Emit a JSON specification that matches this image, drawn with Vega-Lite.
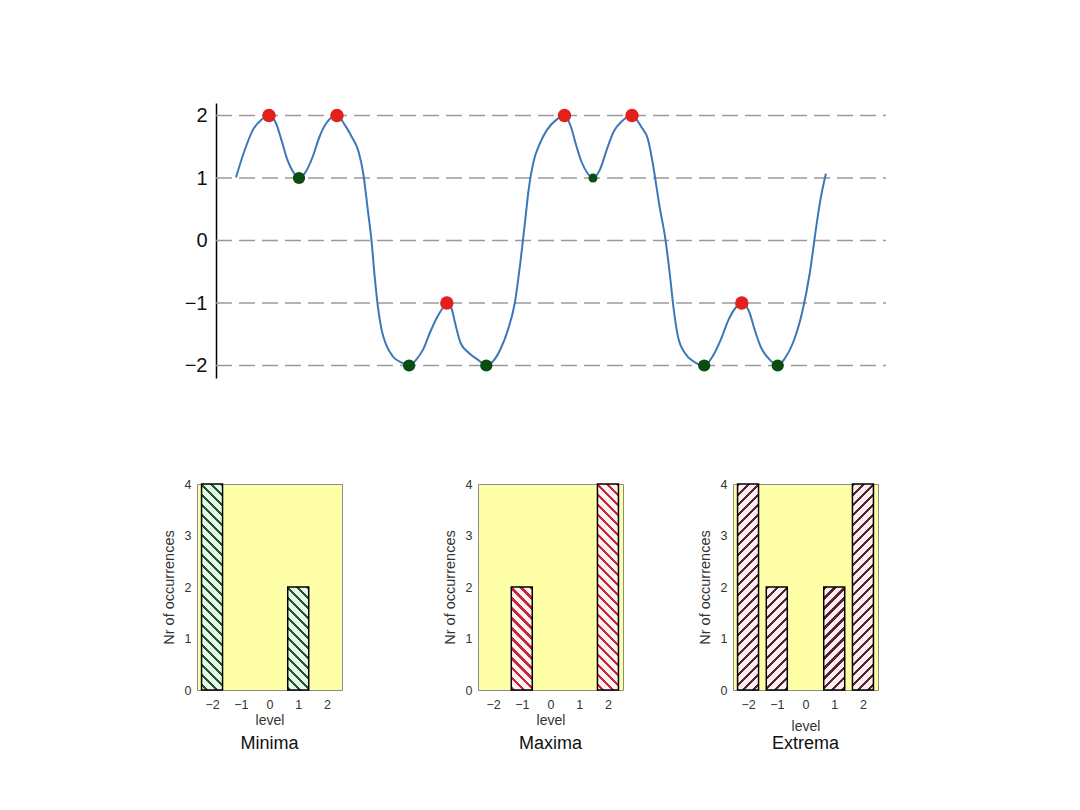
{
  "$schema": "https://vega.github.io/schema/vega-lite/v6.json",
  "background": "white",
  "padding": {"left": 160, "top": 103, "right": 10, "bottom": 10},
  "config": {
    "font": "Liberation Sans",
    "axis": {"labelFont": "Liberation Sans", "titleFont": "Liberation Sans", "titleFontWeight": "normal"},
    "title": {"font": "Liberation Sans", "fontWeight": "normal"}
  },
  "datasets": {
    "levels": [{"v": -2}, {"v": -1}, {"v": 0}, {"v": 1}, {"v": 2}],
    "curve": [{"t":20,"v":1.01},{"t":27.7,"v":1.4},{"t":36.9,"v":1.77},{"t":46,"v":1.94},{"t":53,"v":2},{"t":59.9,"v":1.88},{"t":65.4,"v":1.61},{"t":71.4,"v":1.29},{"t":77.4,"v":1.09},{"t":83,"v":1},{"t":89.8,"v":1.1},{"t":96.7,"v":1.34},{"t":103.5,"v":1.66},{"t":110.4,"v":1.88},{"t":121,"v":2},{"t":128.8,"v":1.85},{"t":135.7,"v":1.66},{"t":142.6,"v":1.42},{"t":147.2,"v":1.08},{"t":151.8,"v":0.49},{"t":155.5,"v":0},{"t":158.7,"v":-0.58},{"t":161.9,"v":-1.06},{"t":165.6,"v":-1.43},{"t":170.2,"v":-1.67},{"t":177.1,"v":-1.86},{"t":186.3,"v":-1.96},{"t":193.1,"v":-2},{"t":200,"v":-1.91},{"t":206.9,"v":-1.75},{"t":213.8,"v":-1.48},{"t":220.7,"v":-1.24},{"t":227.6,"v":-1.06},{"t":230.8,"v":-1},{"t":235.4,"v":-1.08},{"t":239.1,"v":-1.32},{"t":244.6,"v":-1.64},{"t":252.9,"v":-1.8},{"t":262.1,"v":-1.91},{"t":270.3,"v":-2},{"t":278.2,"v":-1.91},{"t":285,"v":-1.72},{"t":291.9,"v":-1.43},{"t":298.8,"v":-1},{"t":304.3,"v":-0.36},{"t":308.9,"v":0.28},{"t":312.6,"v":0.81},{"t":317.2,"v":1.24},{"t":324.1,"v":1.56},{"t":331,"v":1.77},{"t":340.2,"v":1.93},{"t":348.5,"v":2},{"t":354.9,"v":1.82},{"t":359.5,"v":1.56},{"t":365.5,"v":1.26},{"t":371.4,"v":1.08},{"t":376.9,"v":1},{"t":383.8,"v":1.13},{"t":390.7,"v":1.45},{"t":397.6,"v":1.74},{"t":405.4,"v":1.9},{"t":416,"v":2},{"t":425.2,"v":1.82},{"t":432.1,"v":1.61},{"t":436.7,"v":1.24},{"t":443.6,"v":0.54},{"t":449.6,"v":0},{"t":454.1,"v":-0.58},{"t":457.4,"v":-1.06},{"t":462,"v":-1.54},{"t":468.9,"v":-1.8},{"t":478,"v":-1.94},{"t":488.2,"v":-2},{"t":496.4,"v":-1.86},{"t":504.7,"v":-1.59},{"t":512.5,"v":-1.27},{"t":519.4,"v":-1.08},{"t":525.8,"v":-1},{"t":533.2,"v":-1.14},{"t":538.7,"v":-1.43},{"t":544.7,"v":-1.7},{"t":553.9,"v":-1.91},{"t":561.7,"v":-2},{"t":569.1,"v":-1.88},{"t":576.9,"v":-1.64},{"t":586,"v":-1.16},{"t":593.8,"v":-0.52},{"t":599.8,"v":0.17},{"t":604.4,"v":0.65},{"t":609.9,"v":1.07}],
    "maxima": [{"t":53,"v":2},{"t":121,"v":2},{"t":230.8,"v":-1},{"t":348.5,"v":2},{"t":416,"v":2},{"t":525.8,"v":-1}],
    "minima": [{"t":83,"v":1},{"t":193.1,"v":-2},{"t":270.3,"v":-2},{"t":377,"v":1},{"t":488.2,"v":-2},{"t":561.7,"v":-2}],
    "hist": [
      {"panel":"Minima","level":-2,"n":4},{"panel":"Minima","level":1,"n":2},
      {"panel":"Maxima","level":-1,"n":2},{"panel":"Maxima","level":2,"n":4},
      {"panel":"Extrema","level":-2,"n":4},{"panel":"Extrema","level":-1,"n":2},
      {"panel":"Extrema","level":1,"n":2},{"panel":"Extrema","level":2,"n":4}
    ]
  },
  "spacing": 99,
  "vconcat": [
    {
      "width": 689,
      "height": 275,
      "view": {"stroke": null},
      "layer": [
        {
          "data": {"name": "levels"},
          "mark": {"type": "rule", "strokeDash": [16, 7], "color": "#9a9a9a", "strokeWidth": 1.5},
          "encoding": {
            "x": {"datum": 0, "type": "quantitative", "scale": {"domain": [-19, 670], "nice": false, "zero": false}, "axis": null},
            "x2": {"datum": 670},
            "y": {
              "field": "v", "type": "quantitative",
              "scale": {"domain": [-2.2, 2.2], "nice": false, "zero": false},
              "axis": {
                "values": [-2, -1, 0, 1, 2], "format": "d", "grid": false, "offset": -19,
                "domainColor": "#000", "domainWidth": 1.5, "ticks": false,
                "labelFontSize": 20, "labelColor": "#111", "labelPadding": 9, "title": null
              }
            }
          }
        },
        {
          "data": {"name": "curve"},
          "mark": {"type": "line", "interpolate": "monotone", "color": "#3b78b8", "strokeWidth": 2},
          "encoding": {
            "x": {"field": "t", "type": "quantitative"},
            "y": {"field": "v", "type": "quantitative"}
          }
        },
        {
          "data": {"name": "maxima"},
          "mark": {"type": "circle", "color": "#e3201b", "size": 180, "opacity": 1},
          "encoding": {
            "x": {"field": "t", "type": "quantitative"},
            "y": {"field": "v", "type": "quantitative"}
          }
        },
        {
          "data": {"name": "minima"},
          "transform": [{"filter": "datum.t != 377"}],
          "mark": {"type": "circle", "color": "#0a4d13", "size": 150, "opacity": 1},
          "encoding": {
            "x": {"field": "t", "type": "quantitative"},
            "y": {"field": "v", "type": "quantitative"}
          }
        },
        {
          "data": {"name": "minima"},
          "transform": [{"filter": "datum.t == 377"}],
          "mark": {"type": "circle", "color": "#0a4d13", "size": 80, "opacity": 1},
          "encoding": {
            "x": {"field": "t", "type": "quantitative"},
            "y": {"field": "v", "type": "quantitative"}
          }
        }
      ]
    },
    {
      "spacing": 98,
      "hconcat": [
        {
          "width": 145,
          "height": 206,
          "view": {"fill": "#ffffa8", "stroke": "#8c8c8c"},
          "title": {"text": "Minima", "orient": "bottom", "fontSize": 18, "color": "#111", "offset": 7},
          "data": {"name": "hist"},
          "transform": [{"filter": "datum.panel == 'Minima'"}],
          "encoding": {
            "x": {"field": "level", "type": "quantitative", "scale": {"domain": [-2.35, 2.35], "nice": false, "zero": false},
              "axis": {"values": [-2, -1, 0, 1, 2], "title": "level", "grid": false, "domain": false, "ticks": false, "labelPadding": 8, "titlePadding": 3, "labelFontSize": 12.5, "titleFontSize": 14, "labelColor": "#333", "titleColor": "#333"}},
            "y": {"field": "n", "type": "quantitative", "scale": {"domain": [0, 4], "nice": false},
              "axis": {"values": [0, 1, 2, 3, 4], "title": "Nr of occurrences", "grid": false, "domain": false, "ticks": false, "labelPadding": 6, "titlePadding": 8, "labelFontSize": 12.5, "titleFontSize": 14.5, "labelColor": "#333", "titleColor": "#333"}}
          },
          "layer": [
            {
              "transform": [{"filter": "datum.n > 3"}],
              "mark": {"type": "bar", "orient": "vertical", "size": 21, "stroke": "#000", "strokeWidth": 1.5,
                "fill": {"gradient": "linear", "x1": 1, "y1": 0, "x2": 0.8888, "y2": 1.0906, "stops": [
                  {"offset":0,"color":"#1d5c2a"},{"offset":0.015,"color":"#1d5c2a"},{"offset":0.015,"color":"#e9f6ea"},{"offset":0.044,"color":"#e9f6ea"},
                  {"offset":0.044,"color":"#1d5c2a"},{"offset":0.059,"color":"#1d5c2a"},{"offset":0.059,"color":"#e9f6ea"},{"offset":0.088,"color":"#e9f6ea"},
                  {"offset":0.088,"color":"#1d5c2a"},{"offset":0.103,"color":"#1d5c2a"},{"offset":0.103,"color":"#e9f6ea"},{"offset":0.132,"color":"#e9f6ea"},
                  {"offset":0.132,"color":"#1d5c2a"},{"offset":0.147,"color":"#1d5c2a"},{"offset":0.147,"color":"#e9f6ea"},{"offset":0.176,"color":"#e9f6ea"},
                  {"offset":0.176,"color":"#1d5c2a"},{"offset":0.191,"color":"#1d5c2a"},{"offset":0.191,"color":"#e9f6ea"},{"offset":0.22,"color":"#e9f6ea"},
                  {"offset":0.22,"color":"#1d5c2a"},{"offset":0.235,"color":"#1d5c2a"},{"offset":0.235,"color":"#e9f6ea"},{"offset":0.264,"color":"#e9f6ea"},
                  {"offset":0.264,"color":"#1d5c2a"},{"offset":0.279,"color":"#1d5c2a"},{"offset":0.279,"color":"#e9f6ea"},{"offset":0.308,"color":"#e9f6ea"},
                  {"offset":0.308,"color":"#1d5c2a"},{"offset":0.323,"color":"#1d5c2a"},{"offset":0.323,"color":"#e9f6ea"},{"offset":0.352,"color":"#e9f6ea"},
                  {"offset":0.352,"color":"#1d5c2a"},{"offset":0.367,"color":"#1d5c2a"},{"offset":0.367,"color":"#e9f6ea"},{"offset":0.396,"color":"#e9f6ea"},
                  {"offset":0.396,"color":"#1d5c2a"},{"offset":0.411,"color":"#1d5c2a"},{"offset":0.411,"color":"#e9f6ea"},{"offset":0.44,"color":"#e9f6ea"},
                  {"offset":0.44,"color":"#1d5c2a"},{"offset":0.455,"color":"#1d5c2a"},{"offset":0.455,"color":"#e9f6ea"},{"offset":0.484,"color":"#e9f6ea"},
                  {"offset":0.484,"color":"#1d5c2a"},{"offset":0.499,"color":"#1d5c2a"},{"offset":0.499,"color":"#e9f6ea"},{"offset":0.528,"color":"#e9f6ea"},
                  {"offset":0.528,"color":"#1d5c2a"},{"offset":0.543,"color":"#1d5c2a"},{"offset":0.543,"color":"#e9f6ea"},{"offset":0.572,"color":"#e9f6ea"},
                  {"offset":0.572,"color":"#1d5c2a"},{"offset":0.587,"color":"#1d5c2a"},{"offset":0.587,"color":"#e9f6ea"},{"offset":0.616,"color":"#e9f6ea"},
                  {"offset":0.616,"color":"#1d5c2a"},{"offset":0.631,"color":"#1d5c2a"},{"offset":0.631,"color":"#e9f6ea"},{"offset":0.66,"color":"#e9f6ea"},
                  {"offset":0.66,"color":"#1d5c2a"},{"offset":0.675,"color":"#1d5c2a"},{"offset":0.675,"color":"#e9f6ea"},{"offset":0.704,"color":"#e9f6ea"},
                  {"offset":0.704,"color":"#1d5c2a"},{"offset":0.719,"color":"#1d5c2a"},{"offset":0.719,"color":"#e9f6ea"},{"offset":0.748,"color":"#e9f6ea"},
                  {"offset":0.748,"color":"#1d5c2a"},{"offset":0.763,"color":"#1d5c2a"},{"offset":0.763,"color":"#e9f6ea"},{"offset":0.792,"color":"#e9f6ea"},
                  {"offset":0.792,"color":"#1d5c2a"},{"offset":0.807,"color":"#1d5c2a"},{"offset":0.807,"color":"#e9f6ea"},{"offset":0.836,"color":"#e9f6ea"},
                  {"offset":0.836,"color":"#1d5c2a"},{"offset":0.851,"color":"#1d5c2a"},{"offset":0.851,"color":"#e9f6ea"},{"offset":0.88,"color":"#e9f6ea"},
                  {"offset":0.88,"color":"#1d5c2a"},{"offset":0.895,"color":"#1d5c2a"},{"offset":0.895,"color":"#e9f6ea"},{"offset":0.924,"color":"#e9f6ea"},
                  {"offset":0.924,"color":"#1d5c2a"},{"offset":0.939,"color":"#1d5c2a"},{"offset":0.939,"color":"#e9f6ea"},{"offset":0.968,"color":"#e9f6ea"},
                  {"offset":0.968,"color":"#1d5c2a"},{"offset":0.983,"color":"#1d5c2a"},{"offset":0.983,"color":"#e9f6ea"},{"offset":1,"color":"#e9f6ea"}
                ]}}
            },
            {
              "transform": [{"filter": "datum.n < 3"}],
              "mark": {"type": "bar", "orient": "vertical", "size": 21, "stroke": "#000", "strokeWidth": 1.5,
                "fill": {"gradient": "linear", "x1": 1, "y1": 0, "x2": 0.5686, "y2": 2.1157, "stops": [
                  {"offset":0,"color":"#1d5c2a"},{"offset":0.015,"color":"#1d5c2a"},{"offset":0.015,"color":"#e9f6ea"},{"offset":0.044,"color":"#e9f6ea"},
                  {"offset":0.044,"color":"#1d5c2a"},{"offset":0.059,"color":"#1d5c2a"},{"offset":0.059,"color":"#e9f6ea"},{"offset":0.088,"color":"#e9f6ea"},
                  {"offset":0.088,"color":"#1d5c2a"},{"offset":0.103,"color":"#1d5c2a"},{"offset":0.103,"color":"#e9f6ea"},{"offset":0.132,"color":"#e9f6ea"},
                  {"offset":0.132,"color":"#1d5c2a"},{"offset":0.147,"color":"#1d5c2a"},{"offset":0.147,"color":"#e9f6ea"},{"offset":0.176,"color":"#e9f6ea"},
                  {"offset":0.176,"color":"#1d5c2a"},{"offset":0.191,"color":"#1d5c2a"},{"offset":0.191,"color":"#e9f6ea"},{"offset":0.22,"color":"#e9f6ea"},
                  {"offset":0.22,"color":"#1d5c2a"},{"offset":0.235,"color":"#1d5c2a"},{"offset":0.235,"color":"#e9f6ea"},{"offset":0.264,"color":"#e9f6ea"},
                  {"offset":0.264,"color":"#1d5c2a"},{"offset":0.279,"color":"#1d5c2a"},{"offset":0.279,"color":"#e9f6ea"},{"offset":0.308,"color":"#e9f6ea"},
                  {"offset":0.308,"color":"#1d5c2a"},{"offset":0.323,"color":"#1d5c2a"},{"offset":0.323,"color":"#e9f6ea"},{"offset":0.352,"color":"#e9f6ea"},
                  {"offset":0.352,"color":"#1d5c2a"},{"offset":0.367,"color":"#1d5c2a"},{"offset":0.367,"color":"#e9f6ea"},{"offset":0.396,"color":"#e9f6ea"},
                  {"offset":0.396,"color":"#1d5c2a"},{"offset":0.411,"color":"#1d5c2a"},{"offset":0.411,"color":"#e9f6ea"},{"offset":0.44,"color":"#e9f6ea"},
                  {"offset":0.44,"color":"#1d5c2a"},{"offset":0.455,"color":"#1d5c2a"},{"offset":0.455,"color":"#e9f6ea"},{"offset":0.484,"color":"#e9f6ea"},
                  {"offset":0.484,"color":"#1d5c2a"},{"offset":0.499,"color":"#1d5c2a"},{"offset":0.499,"color":"#e9f6ea"},{"offset":0.528,"color":"#e9f6ea"},
                  {"offset":0.528,"color":"#1d5c2a"},{"offset":0.543,"color":"#1d5c2a"},{"offset":0.543,"color":"#e9f6ea"},{"offset":0.572,"color":"#e9f6ea"}
                ]}}
            }
          ]
        },
        {
          "spacing": 72,
          "hconcat": [
            {
              "width": 145,
              "height": 206,
              "view": {"fill": "#ffffa8", "stroke": "#8c8c8c"},
              "title": {"text": "Maxima", "orient": "bottom", "fontSize": 18, "color": "#111", "offset": 7},
              "data": {"name": "hist"},
              "transform": [{"filter": "datum.panel == 'Maxima'"}],
              "encoding": {
                "x": {"field": "level", "type": "quantitative", "scale": {"domain": [-2.35, 2.35], "nice": false, "zero": false},
                  "axis": {"values": [-2, -1, 0, 1, 2], "title": "level", "grid": false, "domain": false, "ticks": false, "labelPadding": 8, "titlePadding": 3, "labelFontSize": 12.5, "titleFontSize": 14, "labelColor": "#333", "titleColor": "#333"}},
                "y": {"field": "n", "type": "quantitative", "scale": {"domain": [0, 4], "nice": false},
                  "axis": {"values": [0, 1, 2, 3, 4], "title": "Nr of occurrences", "grid": false, "domain": false, "ticks": false, "labelPadding": 6, "titlePadding": 8, "labelFontSize": 12.5, "titleFontSize": 14.5, "labelColor": "#333", "titleColor": "#333"}}
              },
              "layer": [
                {
                  "transform": [{"filter": "datum.n > 3"}],
                  "mark": {"type": "bar", "orient": "vertical", "size": 21, "stroke": "#000", "strokeWidth": 1.5,
                    "fill": {"gradient": "linear", "x1": 1, "y1": 0, "x2": 0.8888, "y2": 1.0906, "stops": [
                      {"offset":0,"color":"#c8283a"},{"offset":0.015,"color":"#c8283a"},{"offset":0.015,"color":"#fff2f2"},{"offset":0.044,"color":"#fff2f2"},
                      {"offset":0.044,"color":"#c8283a"},{"offset":0.059,"color":"#c8283a"},{"offset":0.059,"color":"#fff2f2"},{"offset":0.088,"color":"#fff2f2"},
                      {"offset":0.088,"color":"#c8283a"},{"offset":0.103,"color":"#c8283a"},{"offset":0.103,"color":"#fff2f2"},{"offset":0.132,"color":"#fff2f2"},
                      {"offset":0.132,"color":"#c8283a"},{"offset":0.147,"color":"#c8283a"},{"offset":0.147,"color":"#fff2f2"},{"offset":0.176,"color":"#fff2f2"},
                      {"offset":0.176,"color":"#c8283a"},{"offset":0.191,"color":"#c8283a"},{"offset":0.191,"color":"#fff2f2"},{"offset":0.22,"color":"#fff2f2"},
                      {"offset":0.22,"color":"#c8283a"},{"offset":0.235,"color":"#c8283a"},{"offset":0.235,"color":"#fff2f2"},{"offset":0.264,"color":"#fff2f2"},
                      {"offset":0.264,"color":"#c8283a"},{"offset":0.279,"color":"#c8283a"},{"offset":0.279,"color":"#fff2f2"},{"offset":0.308,"color":"#fff2f2"},
                      {"offset":0.308,"color":"#c8283a"},{"offset":0.323,"color":"#c8283a"},{"offset":0.323,"color":"#fff2f2"},{"offset":0.352,"color":"#fff2f2"},
                      {"offset":0.352,"color":"#c8283a"},{"offset":0.367,"color":"#c8283a"},{"offset":0.367,"color":"#fff2f2"},{"offset":0.396,"color":"#fff2f2"},
                      {"offset":0.396,"color":"#c8283a"},{"offset":0.411,"color":"#c8283a"},{"offset":0.411,"color":"#fff2f2"},{"offset":0.44,"color":"#fff2f2"},
                      {"offset":0.44,"color":"#c8283a"},{"offset":0.455,"color":"#c8283a"},{"offset":0.455,"color":"#fff2f2"},{"offset":0.484,"color":"#fff2f2"},
                      {"offset":0.484,"color":"#c8283a"},{"offset":0.499,"color":"#c8283a"},{"offset":0.499,"color":"#fff2f2"},{"offset":0.528,"color":"#fff2f2"},
                      {"offset":0.528,"color":"#c8283a"},{"offset":0.543,"color":"#c8283a"},{"offset":0.543,"color":"#fff2f2"},{"offset":0.572,"color":"#fff2f2"},
                      {"offset":0.572,"color":"#c8283a"},{"offset":0.587,"color":"#c8283a"},{"offset":0.587,"color":"#fff2f2"},{"offset":0.616,"color":"#fff2f2"},
                      {"offset":0.616,"color":"#c8283a"},{"offset":0.631,"color":"#c8283a"},{"offset":0.631,"color":"#fff2f2"},{"offset":0.66,"color":"#fff2f2"},
                      {"offset":0.66,"color":"#c8283a"},{"offset":0.675,"color":"#c8283a"},{"offset":0.675,"color":"#fff2f2"},{"offset":0.704,"color":"#fff2f2"},
                      {"offset":0.704,"color":"#c8283a"},{"offset":0.719,"color":"#c8283a"},{"offset":0.719,"color":"#fff2f2"},{"offset":0.748,"color":"#fff2f2"},
                      {"offset":0.748,"color":"#c8283a"},{"offset":0.763,"color":"#c8283a"},{"offset":0.763,"color":"#fff2f2"},{"offset":0.792,"color":"#fff2f2"},
                      {"offset":0.792,"color":"#c8283a"},{"offset":0.807,"color":"#c8283a"},{"offset":0.807,"color":"#fff2f2"},{"offset":0.836,"color":"#fff2f2"},
                      {"offset":0.836,"color":"#c8283a"},{"offset":0.851,"color":"#c8283a"},{"offset":0.851,"color":"#fff2f2"},{"offset":0.88,"color":"#fff2f2"},
                      {"offset":0.88,"color":"#c8283a"},{"offset":0.895,"color":"#c8283a"},{"offset":0.895,"color":"#fff2f2"},{"offset":0.924,"color":"#fff2f2"},
                      {"offset":0.924,"color":"#c8283a"},{"offset":0.939,"color":"#c8283a"},{"offset":0.939,"color":"#fff2f2"},{"offset":0.968,"color":"#fff2f2"},
                      {"offset":0.968,"color":"#c8283a"},{"offset":0.983,"color":"#c8283a"},{"offset":0.983,"color":"#fff2f2"},{"offset":1,"color":"#fff2f2"}
                    ]}}
                },
                {
                  "transform": [{"filter": "datum.n < 3"}],
                  "mark": {"type": "bar", "orient": "vertical", "size": 21, "stroke": "#000", "strokeWidth": 1.5,
                    "fill": {"gradient": "linear", "x1": 1, "y1": 0, "x2": 0.5686, "y2": 2.1157, "stops": [
                      {"offset":0,"color":"#c8283a"},{"offset":0.015,"color":"#c8283a"},{"offset":0.015,"color":"#fff2f2"},{"offset":0.044,"color":"#fff2f2"},
                      {"offset":0.044,"color":"#c8283a"},{"offset":0.059,"color":"#c8283a"},{"offset":0.059,"color":"#fff2f2"},{"offset":0.088,"color":"#fff2f2"},
                      {"offset":0.088,"color":"#c8283a"},{"offset":0.103,"color":"#c8283a"},{"offset":0.103,"color":"#fff2f2"},{"offset":0.132,"color":"#fff2f2"},
                      {"offset":0.132,"color":"#c8283a"},{"offset":0.147,"color":"#c8283a"},{"offset":0.147,"color":"#fff2f2"},{"offset":0.176,"color":"#fff2f2"},
                      {"offset":0.176,"color":"#c8283a"},{"offset":0.191,"color":"#c8283a"},{"offset":0.191,"color":"#fff2f2"},{"offset":0.22,"color":"#fff2f2"},
                      {"offset":0.22,"color":"#c8283a"},{"offset":0.235,"color":"#c8283a"},{"offset":0.235,"color":"#fff2f2"},{"offset":0.264,"color":"#fff2f2"},
                      {"offset":0.264,"color":"#c8283a"},{"offset":0.279,"color":"#c8283a"},{"offset":0.279,"color":"#fff2f2"},{"offset":0.308,"color":"#fff2f2"},
                      {"offset":0.308,"color":"#c8283a"},{"offset":0.323,"color":"#c8283a"},{"offset":0.323,"color":"#fff2f2"},{"offset":0.352,"color":"#fff2f2"},
                      {"offset":0.352,"color":"#c8283a"},{"offset":0.367,"color":"#c8283a"},{"offset":0.367,"color":"#fff2f2"},{"offset":0.396,"color":"#fff2f2"},
                      {"offset":0.396,"color":"#c8283a"},{"offset":0.411,"color":"#c8283a"},{"offset":0.411,"color":"#fff2f2"},{"offset":0.44,"color":"#fff2f2"},
                      {"offset":0.44,"color":"#c8283a"},{"offset":0.455,"color":"#c8283a"},{"offset":0.455,"color":"#fff2f2"},{"offset":0.484,"color":"#fff2f2"},
                      {"offset":0.484,"color":"#c8283a"},{"offset":0.499,"color":"#c8283a"},{"offset":0.499,"color":"#fff2f2"},{"offset":0.528,"color":"#fff2f2"},
                      {"offset":0.528,"color":"#c8283a"},{"offset":0.543,"color":"#c8283a"},{"offset":0.543,"color":"#fff2f2"},{"offset":0.572,"color":"#fff2f2"}
                    ]}}
                }
              ]
            },
            {
              "width": 145,
              "height": 206,
              "view": {"fill": "#ffffa8", "stroke": "#8c8c8c"},
              "title": {"text": "Extrema", "orient": "bottom", "fontSize": 18, "color": "#111", "offset": 1},
              "data": {"name": "hist"},
              "transform": [{"filter": "datum.panel == 'Extrema'"}],
              "encoding": {
                "x": {"field": "level", "type": "quantitative", "scale": {"domain": [-2.35, 2.35], "nice": false, "zero": false},
                  "axis": {"values": [-2, -1, 0, 1, 2], "title": "level", "grid": false, "domain": false, "ticks": false, "labelPadding": 8, "titlePadding": 9, "labelFontSize": 12.5, "titleFontSize": 14, "labelColor": "#333", "titleColor": "#333"}},
                "y": {"field": "n", "type": "quantitative", "scale": {"domain": [0, 4], "nice": false},
                  "axis": {"values": [0, 1, 2, 3, 4], "title": "Nr of occurrences", "grid": false, "domain": false, "ticks": false, "labelPadding": 6, "titlePadding": 8, "labelFontSize": 12.5, "titleFontSize": 14.5, "labelColor": "#333", "titleColor": "#333"}}
              },
              "layer": [
                {
                  "transform": [{"filter": "datum.n > 3"}],
                  "mark": {"type": "bar", "orient": "vertical", "size": 21, "stroke": "#000", "strokeWidth": 1.5,
                    "fill": {"gradient": "linear", "x1": 0, "y1": 0, "x2": 0.1112, "y2": 1.0906, "stops": [
                      {"offset":0,"color":"#5a2230"},{"offset":0.015,"color":"#5a2230"},{"offset":0.015,"color":"#fbeff1"},{"offset":0.044,"color":"#fbeff1"},
                      {"offset":0.044,"color":"#5a2230"},{"offset":0.059,"color":"#5a2230"},{"offset":0.059,"color":"#fbeff1"},{"offset":0.088,"color":"#fbeff1"},
                      {"offset":0.088,"color":"#5a2230"},{"offset":0.103,"color":"#5a2230"},{"offset":0.103,"color":"#fbeff1"},{"offset":0.132,"color":"#fbeff1"},
                      {"offset":0.132,"color":"#5a2230"},{"offset":0.147,"color":"#5a2230"},{"offset":0.147,"color":"#fbeff1"},{"offset":0.176,"color":"#fbeff1"},
                      {"offset":0.176,"color":"#5a2230"},{"offset":0.191,"color":"#5a2230"},{"offset":0.191,"color":"#fbeff1"},{"offset":0.22,"color":"#fbeff1"},
                      {"offset":0.22,"color":"#5a2230"},{"offset":0.235,"color":"#5a2230"},{"offset":0.235,"color":"#fbeff1"},{"offset":0.264,"color":"#fbeff1"},
                      {"offset":0.264,"color":"#5a2230"},{"offset":0.279,"color":"#5a2230"},{"offset":0.279,"color":"#fbeff1"},{"offset":0.308,"color":"#fbeff1"},
                      {"offset":0.308,"color":"#5a2230"},{"offset":0.323,"color":"#5a2230"},{"offset":0.323,"color":"#fbeff1"},{"offset":0.352,"color":"#fbeff1"},
                      {"offset":0.352,"color":"#5a2230"},{"offset":0.367,"color":"#5a2230"},{"offset":0.367,"color":"#fbeff1"},{"offset":0.396,"color":"#fbeff1"},
                      {"offset":0.396,"color":"#5a2230"},{"offset":0.411,"color":"#5a2230"},{"offset":0.411,"color":"#fbeff1"},{"offset":0.44,"color":"#fbeff1"},
                      {"offset":0.44,"color":"#5a2230"},{"offset":0.455,"color":"#5a2230"},{"offset":0.455,"color":"#fbeff1"},{"offset":0.484,"color":"#fbeff1"},
                      {"offset":0.484,"color":"#5a2230"},{"offset":0.499,"color":"#5a2230"},{"offset":0.499,"color":"#fbeff1"},{"offset":0.528,"color":"#fbeff1"},
                      {"offset":0.528,"color":"#5a2230"},{"offset":0.543,"color":"#5a2230"},{"offset":0.543,"color":"#fbeff1"},{"offset":0.572,"color":"#fbeff1"},
                      {"offset":0.572,"color":"#5a2230"},{"offset":0.587,"color":"#5a2230"},{"offset":0.587,"color":"#fbeff1"},{"offset":0.616,"color":"#fbeff1"},
                      {"offset":0.616,"color":"#5a2230"},{"offset":0.631,"color":"#5a2230"},{"offset":0.631,"color":"#fbeff1"},{"offset":0.66,"color":"#fbeff1"},
                      {"offset":0.66,"color":"#5a2230"},{"offset":0.675,"color":"#5a2230"},{"offset":0.675,"color":"#fbeff1"},{"offset":0.704,"color":"#fbeff1"},
                      {"offset":0.704,"color":"#5a2230"},{"offset":0.719,"color":"#5a2230"},{"offset":0.719,"color":"#fbeff1"},{"offset":0.748,"color":"#fbeff1"},
                      {"offset":0.748,"color":"#5a2230"},{"offset":0.763,"color":"#5a2230"},{"offset":0.763,"color":"#fbeff1"},{"offset":0.792,"color":"#fbeff1"},
                      {"offset":0.792,"color":"#5a2230"},{"offset":0.807,"color":"#5a2230"},{"offset":0.807,"color":"#fbeff1"},{"offset":0.836,"color":"#fbeff1"},
                      {"offset":0.836,"color":"#5a2230"},{"offset":0.851,"color":"#5a2230"},{"offset":0.851,"color":"#fbeff1"},{"offset":0.88,"color":"#fbeff1"},
                      {"offset":0.88,"color":"#5a2230"},{"offset":0.895,"color":"#5a2230"},{"offset":0.895,"color":"#fbeff1"},{"offset":0.924,"color":"#fbeff1"},
                      {"offset":0.924,"color":"#5a2230"},{"offset":0.939,"color":"#5a2230"},{"offset":0.939,"color":"#fbeff1"},{"offset":0.968,"color":"#fbeff1"},
                      {"offset":0.968,"color":"#5a2230"},{"offset":0.983,"color":"#5a2230"},{"offset":0.983,"color":"#fbeff1"},{"offset":1,"color":"#fbeff1"}
                    ]}}
                },
                {
                  "transform": [{"filter": "datum.n < 3"}],
                  "mark": {"type": "bar", "orient": "vertical", "size": 21, "stroke": "#000", "strokeWidth": 1.5,
                    "fill": {"gradient": "linear", "x1": 0, "y1": 0, "x2": 0.4314, "y2": 2.1157, "stops": [
                      {"offset":0,"color":"#5a2230"},{"offset":0.015,"color":"#5a2230"},{"offset":0.015,"color":"#fbeff1"},{"offset":0.044,"color":"#fbeff1"},
                      {"offset":0.044,"color":"#5a2230"},{"offset":0.059,"color":"#5a2230"},{"offset":0.059,"color":"#fbeff1"},{"offset":0.088,"color":"#fbeff1"},
                      {"offset":0.088,"color":"#5a2230"},{"offset":0.103,"color":"#5a2230"},{"offset":0.103,"color":"#fbeff1"},{"offset":0.132,"color":"#fbeff1"},
                      {"offset":0.132,"color":"#5a2230"},{"offset":0.147,"color":"#5a2230"},{"offset":0.147,"color":"#fbeff1"},{"offset":0.176,"color":"#fbeff1"},
                      {"offset":0.176,"color":"#5a2230"},{"offset":0.191,"color":"#5a2230"},{"offset":0.191,"color":"#fbeff1"},{"offset":0.22,"color":"#fbeff1"},
                      {"offset":0.22,"color":"#5a2230"},{"offset":0.235,"color":"#5a2230"},{"offset":0.235,"color":"#fbeff1"},{"offset":0.264,"color":"#fbeff1"},
                      {"offset":0.264,"color":"#5a2230"},{"offset":0.279,"color":"#5a2230"},{"offset":0.279,"color":"#fbeff1"},{"offset":0.308,"color":"#fbeff1"},
                      {"offset":0.308,"color":"#5a2230"},{"offset":0.323,"color":"#5a2230"},{"offset":0.323,"color":"#fbeff1"},{"offset":0.352,"color":"#fbeff1"},
                      {"offset":0.352,"color":"#5a2230"},{"offset":0.367,"color":"#5a2230"},{"offset":0.367,"color":"#fbeff1"},{"offset":0.396,"color":"#fbeff1"},
                      {"offset":0.396,"color":"#5a2230"},{"offset":0.411,"color":"#5a2230"},{"offset":0.411,"color":"#fbeff1"},{"offset":0.44,"color":"#fbeff1"},
                      {"offset":0.44,"color":"#5a2230"},{"offset":0.455,"color":"#5a2230"},{"offset":0.455,"color":"#fbeff1"},{"offset":0.484,"color":"#fbeff1"},
                      {"offset":0.484,"color":"#5a2230"},{"offset":0.499,"color":"#5a2230"},{"offset":0.499,"color":"#fbeff1"},{"offset":0.528,"color":"#fbeff1"},
                      {"offset":0.528,"color":"#5a2230"},{"offset":0.543,"color":"#5a2230"},{"offset":0.543,"color":"#fbeff1"},{"offset":0.572,"color":"#fbeff1"}
                    ]}}
                }
              ]
            }
          ]
        }
      ]
    }
  ]
}
